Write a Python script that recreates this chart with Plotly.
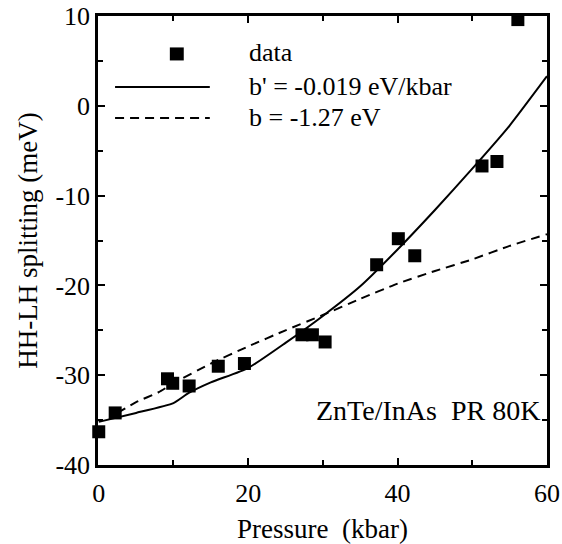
import plotly.graph_objects as go

# data points (pressure kbar, HH-LH splitting meV)
data_p = [0.0, 2.2, 9.2, 9.9, 12.1, 16.0, 19.5, 27.2, 28.6, 30.3, 37.2, 40.1, 42.3, 51.3, 53.3, 56.1]
data_s = [-36.3, -34.2, -30.4, -30.9, -31.2, -29.0, -28.7, -25.5, -25.5, -26.3, -17.7, -14.8, -16.7, -6.7, -6.2, 9.6]

# fit with b' = -0.019 eV/kbar (solid)
solid_p = [0, 5, 10, 12, 15, 20, 25, 30, 35, 40, 45, 50, 55, 60]
solid_s = [-35.2, -34.2, -33.1, -32.0, -30.8, -29.2, -26.4, -23.4, -20.1, -16.0, -11.6, -7.0, -2.2, 3.3]

# fit with b = -1.27 eV (dashed)
dash_p = [2.5, 5, 8, 10, 15, 20, 25, 30, 35, 40, 45, 50, 55, 60]
dash_s = [-34.2, -33.0, -31.9, -30.9, -28.7, -26.8, -25.0, -23.3, -21.5, -19.8, -18.4, -17.1, -15.6, -14.3]

x_ticks = [0, 20, 40, 60]
y_ticks = [-40, -30, -20, -10, 0, 10]

legend_texts = ["data", "b' = -0.019 eV/kbar", "b = -1.27 eV"]
sample_text = "ZnTe/InAs  PR 80K"

FONT = "Liberation Serif"
TICKFONT = dict(family=FONT, size=26, color="black")
TITLEFONT = dict(family=FONT, size=27, color="black")

fig = go.Figure()
fig.add_trace(go.Scatter(x=solid_p, y=solid_s, mode="lines",
                         line=dict(color="black", width=2, shape="spline", smoothing=0.5),
                         showlegend=False))
fig.add_trace(go.Scatter(x=dash_p, y=dash_s, mode="lines",
                         line=dict(color="black", width=2, dash="9px,6px", shape="spline", smoothing=0.5),
                         showlegend=False))
fig.add_trace(go.Scatter(x=data_p, y=data_s, mode="markers",
                         marker=dict(symbol="square", size=13, color="black"),
                         showlegend=False, cliponaxis=False))

axis_common = dict(showline=True, linecolor="black", linewidth=2.5, mirror="allticks",
                   ticks="inside", ticklen=7, tickwidth=2, tickcolor="black",
                   showgrid=False, zeroline=False, automargin=False,
                   tickfont=TICKFONT)

fig.update_xaxes(range=[-0.1, 60], tickvals=x_ticks, ticktext=[str(v) for v in x_ticks],
                 minor=dict(dtick=10, ticks="inside", ticklen=5, tickwidth=1.5, tickcolor="black"),
                 title=dict(text="Pressure  (kbar)", font=TITLEFONT, standoff=13),
                 ticklabelstandoff=3,
                 **axis_common)
fig.update_yaxes(range=[-40, 10], tickvals=y_ticks, ticktext=[str(v) for v in y_ticks],
                 minor=dict(dtick=5, ticks="inside", ticklen=5, tickwidth=1.5, tickcolor="black"),
                 title=dict(text="HH-LH splitting (meV)", font=TITLEFONT, standoff=10),
                 ticklabelstandoff=0,
                 **axis_common)

# legend drawn manually (paper coordinates)
fig.add_shape(type="rect", xref="paper", yref="paper", x0=0.160, x1=0.191, y0=0.901, y1=0.930,
              fillcolor="black", line=dict(width=0))
fig.add_shape(type="line", xref="paper", yref="paper", x0=0.038, x1=0.249, y0=0.842, y1=0.842,
              line=dict(color="black", width=2))
fig.add_shape(type="line", xref="paper", yref="paper", x0=0.038, x1=0.249, y0=0.773, y1=0.773,
              line=dict(color="black", width=2, dash="9px,6px"))
legend_y = [0.918, 0.842, 0.775]
for t, yy in zip(legend_texts, legend_y):
    fig.add_annotation(xref="paper", yref="paper", x=0.331, y=yy, text=t, showarrow=False,
                       xanchor="left", yanchor="middle", font=dict(family=FONT, size=26, color="black"))
fig.add_annotation(xref="paper", yref="paper", x=0.989, y=0.122, text=sample_text,
                   showarrow=False, xanchor="right", yanchor="middle",
                   font=dict(family=FONT, size=28, color="black"))

fig.update_layout(width=562, height=544, margin=dict(l=98, r=15, t=16, b=79),
                  paper_bgcolor="white", plot_bgcolor="white")

fig.write_html("out.html", config={"displayModeBar": False},
               post_script="document.body.style.margin='0';")
